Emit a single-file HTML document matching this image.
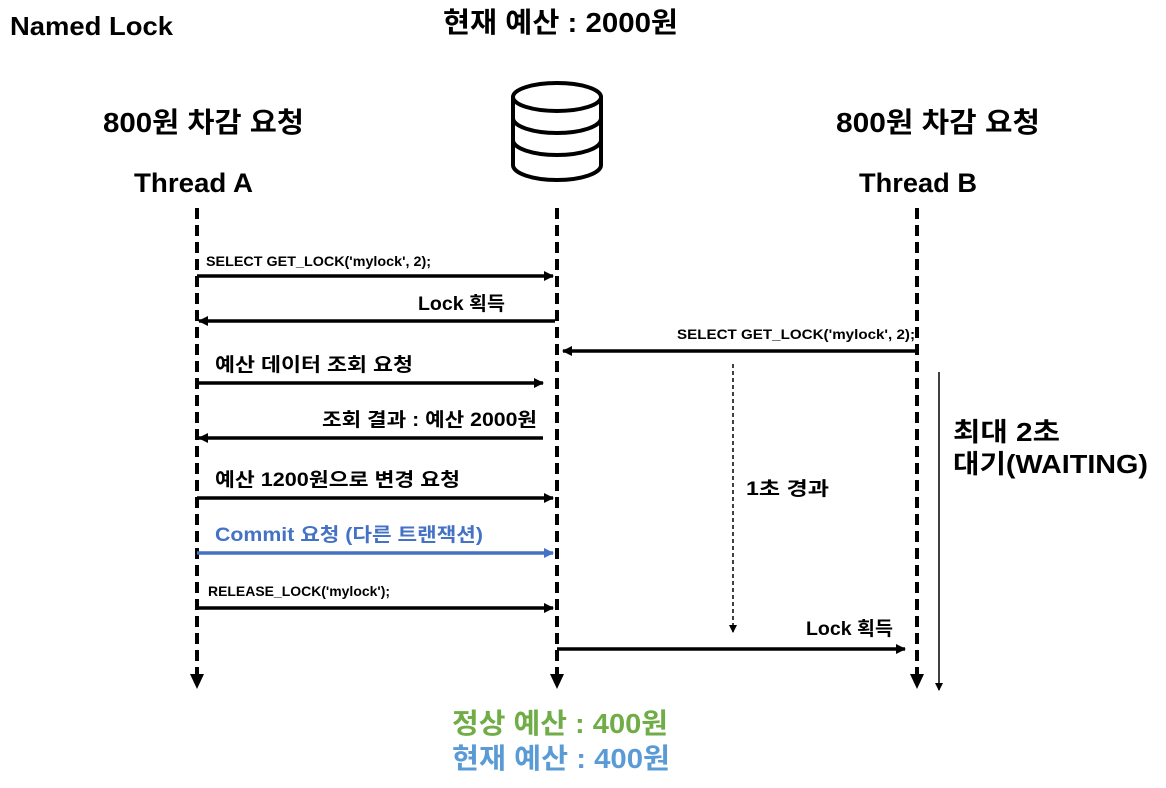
<!DOCTYPE html>
<html><head><meta charset="utf-8"><style>
html,body{margin:0;padding:0;background:#fff;}
svg{display:block;}
text{font-family:"Liberation Sans","Noto Sans CJK KR",sans-serif;font-weight:bold;fill:#000;}
</style></head><body>
<svg width="1166" height="788" viewBox="0 0 1166 788" xmlns="http://www.w3.org/2000/svg">
<defs>
<marker id="ah" markerWidth="10" markerHeight="10" refX="9" refY="5" orient="auto" markerUnits="userSpaceOnUse"><path d="M0,0 L10,5 L0,10 z" fill="#000"/></marker>
<marker id="ahb" markerWidth="10" markerHeight="10" refX="9" refY="5" orient="auto" markerUnits="userSpaceOnUse"><path d="M0,0 L10,5 L0,10 z" fill="#4472C4"/></marker>
<marker id="ahs" markerWidth="8" markerHeight="8" refX="7" refY="4" orient="auto" markerUnits="userSpaceOnUse"><path d="M0,0 L8,4 L0,8 z" fill="#000"/></marker>
</defs>
<g lengthAdjust="spacingAndGlyphs">
<text x="10" y="35" font-size="26" textLength="163" lengthAdjust="spacingAndGlyphs">Named Lock</text>
<text x="443" y="32" font-size="28" textLength="235" lengthAdjust="spacingAndGlyphs">현재 예산 : 2000원</text>
<text x="103" y="132" font-size="28" textLength="201" lengthAdjust="spacingAndGlyphs">800원 차감 요청</text>
<text x="836" y="132" font-size="28" textLength="204" lengthAdjust="spacingAndGlyphs">800원 차감 요청</text>
<text x="134" y="192" font-size="27" textLength="119" lengthAdjust="spacingAndGlyphs">Thread A</text>
<text x="859" y="192" font-size="27" textLength="118" lengthAdjust="spacingAndGlyphs">Thread B</text>
</g>
<!-- DB icon -->
<g fill="none" stroke="#000" stroke-width="4">
<ellipse cx="557" cy="97" rx="44" ry="14"/>
<path d="M513,97 V165 A44,15 0 0 0 601,165 V97"/>
<path d="M513,118 A44,15 0 0 0 601,118"/>
<path d="M513,140 A44,15 0 0 0 601,140"/>
</g>
<!-- lifelines -->
<g stroke="#000" stroke-width="4" stroke-dasharray="11,6">
<line x1="197" y1="208" x2="197" y2="676"/>
<line x1="557" y1="208" x2="557" y2="676"/>
<line x1="917" y1="208" x2="917" y2="676"/>
</g>
<g fill="#000">
<path d="M190,674 L204,674 L197,689 z"/>
<path d="M550,674 L564,674 L557,689 z"/>
<path d="M910,674 L924,674 L917,689 z"/>
</g>
<!-- messages -->
<g stroke="#000" stroke-width="3.5">
<line x1="197" y1="276" x2="553" y2="276" marker-end="url(#ah)"/>
<line x1="555" y1="321" x2="199" y2="321" marker-end="url(#ah)"/>
<line x1="917" y1="351" x2="563" y2="351" marker-end="url(#ah)"/>
<line x1="197" y1="383" x2="543" y2="383" marker-end="url(#ah)"/>
<line x1="543" y1="438" x2="199" y2="438" marker-end="url(#ah)"/>
<line x1="197" y1="498" x2="553" y2="498" marker-end="url(#ah)"/>
<line x1="197" y1="608" x2="553" y2="608" marker-end="url(#ah)"/>
<line x1="557" y1="649" x2="905" y2="649" marker-end="url(#ah)"/>
</g>
<line x1="197" y1="553" x2="553" y2="553" stroke="#4472C4" stroke-width="3.5" marker-end="url(#ahb)"/>
<line x1="733" y1="364" x2="733" y2="632" stroke="#000" stroke-width="1.5" stroke-dasharray="4,3" marker-end="url(#ahs)"/>
<line x1="939" y1="372" x2="939" y2="690" stroke="#000" stroke-width="1.5" marker-end="url(#ahs)"/>
<text x="206" y="266" font-size="14" textLength="225" lengthAdjust="spacingAndGlyphs">SELECT GET_LOCK('mylock', 2);</text>
<text x="418" y="310" font-size="19" textLength="87" lengthAdjust="spacingAndGlyphs">Lock 획득</text>
<text x="677" y="339" font-size="14" textLength="238" lengthAdjust="spacingAndGlyphs">SELECT GET_LOCK('mylock', 2);</text>
<text x="215" y="371" font-size="19" textLength="198" lengthAdjust="spacingAndGlyphs">예산 데이터 조회 요청</text>
<text x="322" y="426" font-size="19" textLength="215" lengthAdjust="spacingAndGlyphs">조회 결과 : 예산 2000원</text>
<text x="215" y="486" font-size="19" textLength="245" lengthAdjust="spacingAndGlyphs">예산 1200원으로 변경 요청</text>
<text x="215" y="541" font-size="19" textLength="268" lengthAdjust="spacingAndGlyphs" style="fill:#4472C4">Commit 요청 (다른 트랜잭션)</text>
<text x="208" y="596" font-size="14" textLength="182" lengthAdjust="spacingAndGlyphs">RELEASE_LOCK('mylock');</text>
<text x="806" y="635" font-size="19" textLength="87" lengthAdjust="spacingAndGlyphs">Lock 획득</text>
<text x="746" y="495" font-size="19" textLength="83" lengthAdjust="spacingAndGlyphs">1초 경과</text>
<text x="953" y="441" font-size="26" textLength="107" lengthAdjust="spacingAndGlyphs">최대 2초</text>
<text x="953" y="473" font-size="26" textLength="195" lengthAdjust="spacingAndGlyphs">대기(WAITING)</text>
<text x="452" y="733" font-size="28" textLength="216" lengthAdjust="spacingAndGlyphs" style="fill:#70AD47">정상 예산 : 400원</text>
<text x="452" y="768" font-size="28" textLength="218" lengthAdjust="spacingAndGlyphs" style="fill:#5B9BD5">현재 예산 : 400원</text>
</svg>
</body></html>
